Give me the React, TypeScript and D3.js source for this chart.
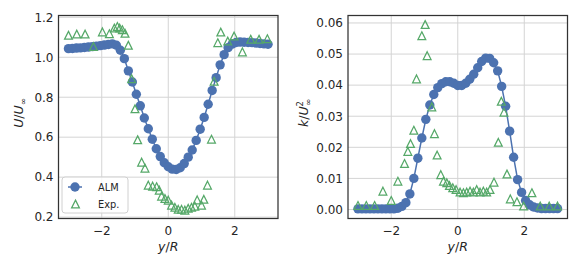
import * as d3 from 'd3'

const W = 581
const H = 271

// ALM simulation, 51 stations across the wake
const almX = [
  -3.0, -2.88, -2.76, -2.64, -2.52, -2.4, -2.28, -2.16, -2.04, -1.92, -1.8, -1.68, -1.56,
  -1.44, -1.32, -1.2, -1.08, -0.96, -0.84, -0.72, -0.6, -0.48, -0.36, -0.24, -0.12, 0.0,
  0.12, 0.24, 0.36, 0.48, 0.6, 0.72, 0.84, 0.96, 1.08, 1.2, 1.32, 1.44, 1.56, 1.68, 1.8,
  1.92, 2.04, 2.16, 2.28, 2.4, 2.52, 2.64, 2.76, 2.88, 3.0,
]
const almU = [
  1.043, 1.044, 1.046, 1.047, 1.049, 1.051, 1.053, 1.055, 1.058, 1.061, 1.064, 1.067, 1.06,
  1.035, 0.993, 0.932, 0.876, 0.815, 0.757, 0.696, 0.642, 0.59, 0.542, 0.503, 0.472, 0.452,
  0.44, 0.438, 0.447, 0.468, 0.5, 0.536, 0.584, 0.64, 0.699, 0.765, 0.834, 0.898, 0.962,
  1.013, 1.048, 1.066, 1.074, 1.076, 1.075, 1.074, 1.073, 1.071, 1.069, 1.067, 1.065,
]
const almK = [
  0.0002, 0.0002, 0.0002, 0.0002, 0.0002, 0.0002, 0.0002, 0.0002, 0.0002, 0.0002, 0.0004,
  0.001, 0.0022, 0.005, 0.01, 0.0165, 0.023, 0.029, 0.0336, 0.037, 0.0392, 0.0405, 0.0411,
  0.0411, 0.0406, 0.0399, 0.0399, 0.0406, 0.0419, 0.0435, 0.0456, 0.0476, 0.0487, 0.0486,
  0.0472, 0.0446, 0.0396, 0.0332, 0.0252, 0.0168, 0.0096, 0.0055, 0.0029, 0.0015, 0.0008,
  0.0005, 0.0003, 0.0003, 0.0003, 0.0003, 0.0003,
]

// experiment
const expUX = [
  -3.0, -2.75, -2.5, -2.25, -1.98, -1.77, -1.62, -1.53, -1.46, -1.38, -1.3, -1.2, -1.1, -1.0,
  -0.92, -0.8, -0.7, -0.6, -0.47, -0.35, -0.27, -0.2, -0.1, 0.0, 0.1, 0.2, 0.3, 0.4, 0.5,
  0.6, 0.7, 0.8, 0.87, 1.0, 1.07, 1.18, 1.3, 1.38, 1.49, 1.58, 1.79, 1.98, 2.23, 2.48,
  2.73, 2.98,
]
const expU = [
  1.11, 1.116, 1.116, 1.054, 1.127, 1.118, 1.146, 1.154, 1.146, 1.138, 1.12, 1.06, 0.893,
  0.742, 0.587, 0.475, 0.445, 0.36, 0.355, 0.352, 0.335, 0.305, 0.293, 0.285, 0.26, 0.249,
  0.239, 0.239, 0.235, 0.244, 0.249, 0.255, 0.286, 0.26, 0.289, 0.36, 0.59, 0.88, 1.073,
  1.126, 1.081, 1.106, 1.027, 1.09, 1.09, 1.093,
]
const expKX = [
  -3.0, -2.75, -2.5, -2.25, -2.0, -1.8, -1.6, -1.5, -1.42, -1.32, -1.24, -1.08, -0.98, -0.92,
  -0.78, -0.7, -0.62, -0.51, -0.43, -0.33, -0.25, -0.15, -0.05, 0.07, 0.17, 0.27, 0.37, 0.47,
  0.57, 0.67, 0.77, 0.87, 0.97, 1.09, 1.22, 1.31, 1.39, 1.48, 1.58, 1.78, 1.98, 2.23, 2.48,
  2.75, 3.0,
]
const expK = [
  0.0013, 0.0013, 0.0013, 0.0059, 0.0029, 0.0091, 0.0148, 0.0187, 0.0212, 0.0255, 0.042,
  0.0559, 0.0595, 0.0495, 0.033, 0.0244, 0.0175, 0.0112, 0.0091, 0.0086, 0.0077, 0.007,
  0.0064, 0.0056, 0.0054, 0.0056, 0.0059, 0.0056, 0.0064, 0.0056, 0.0059, 0.0056, 0.0064,
  0.0088, 0.0216, 0.0348, 0.0313, 0.0114, 0.0034, 0.0025, 0.0011, 0.0054, 0.0011, 0.0011,
  0.0011,
]

const xTicks = [-2, 0, 2]
const uTicks = [0.2, 0.4, 0.6, 0.8, 1.0, 1.2]
const kTicks = [0, 0.01, 0.02, 0.03, 0.04, 0.05, 0.06]
const legendLabels = ['ALM', 'Exp.']

const BLUE = '#4c72b0'
const GREEN = '#55a868'
const FONT = 'DejaVu Sans, sans-serif'
const TOP = 15.5
const BOTTOM = 218.5

const triangle = (s: number) => `M0,${-s}L${s},${s}L${-s},${s}Z`

interface PanelProps {
  left: number
  right: number
  yDomain: [number, number]
  yTicks: number[]
  yFmt: (v: number) => string
  almY: number[]
  expX: number[]
  expY: number[]
  ylabel: React.ReactNode
  legend?: boolean
}

function Panel({ left, right, yDomain, yTicks, yFmt, almY, expX, expY, ylabel, legend }: PanelProps) {
  const x = d3.scaleLinear().domain([-3.3, 3.3]).range([left, right])
  const y = d3.scaleLinear().domain(yDomain).range([BOTTOM, TOP])
  const line = d3
    .line<number>()
    .x((_, i) => x(almX[i]))
    .y((d) => y(d))
  const xFmt = d3.format('')
  const cx = (left + right) / 2

  return (
    <g>
      <rect x={left} y={TOP} width={right - left} height={BOTTOM - TOP} fill="#fff" />
      {xTicks.map((t) => (
        <line key={'gx' + t} x1={x(t)} x2={x(t)} y1={TOP} y2={BOTTOM} stroke="#d4d4d4" strokeWidth={1} />
      ))}
      {yTicks.map((t) => (
        <line key={'gy' + t} x1={left} x2={right} y1={y(t)} y2={y(t)} stroke="#d4d4d4" strokeWidth={1} />
      ))}
      <path d={line(almY) ?? ''} fill="none" stroke={BLUE} strokeWidth={1.5} />
      {almY.map((d, i) => (
        <circle key={'a' + i} cx={x(almX[i])} cy={y(d)} r={4.7} fill={BLUE} />
      ))}
      {expY.map((d, i) => (
        <path
          key={'e' + i}
          d={triangle(3.9)}
          transform={`translate(${x(expX[i])},${y(d)})`}
          fill="none"
          stroke={GREEN}
          strokeWidth={1.25}
        />
      ))}
      <rect
        x={left}
        y={TOP}
        width={right - left}
        height={BOTTOM - TOP}
        fill="none"
        stroke="#333"
        strokeWidth={1.25}
      />
      {xTicks.map((t) => (
        <text
          key={'tx' + t}
          x={x(t)}
          y={235}
          textAnchor="middle"
          fontSize={12}
          fontFamily={FONT}
          fill="#262626"
        >
          {xFmt(t)}
        </text>
      ))}
      {yTicks.map((t) => (
        <text
          key={'ty' + t}
          x={left - 5}
          y={y(t) + 4.3}
          textAnchor="end"
          fontSize={12}
          fontFamily={FONT}
          fill="#262626"
        >
          {yFmt(t)}
        </text>
      ))}
      <text x={cx} y={251} textAnchor="middle" fontSize={12.5} fontFamily={FONT} fill="#262626">
        <tspan fontStyle="italic">y</tspan>/<tspan fontStyle="italic">R</tspan>
      </text>
      {ylabel}
      {legend && (
        <g fontFamily={FONT} fontSize={9.8} fill="#262626">
          <rect x={62} y={177} width={66} height={36} rx={3} fill="#fff" fillOpacity={0.8} stroke="#d0d0d0" />
          <line x1={68} x2={82} y1={187} y2={187} stroke={BLUE} strokeWidth={1.5} />
          <circle cx={75} cy={187} r={4.7} fill={BLUE} />
          <text x={98} y={190.5}>{legendLabels[0]}</text>
          <path d={triangle(3.9)} transform="translate(75.5,204)" fill="none" stroke={GREEN} strokeWidth={1.25} />
          <text x={98} y={207.5}>{legendLabels[1]}</text>
        </g>
      )}
    </g>
  )
}

export default function App() {
  return (
    <div style={{ position: 'absolute', left: 0, top: 0 }}>
      <svg width={W} height={H} style={{ display: 'block', background: '#fff' }}>
        <Panel
          left={58.5}
          right={278}
          yDomain={[0.193, 1.209]}
          yTicks={uTicks}
          yFmt={d3.format('.1f')}
          almY={almU}
          expX={expUX}
          expY={expU}
          legend
          ylabel={
            <text
              transform="translate(23,113) rotate(-90)"
              textAnchor="middle"
              fontSize={12.5}
              fontFamily={FONT}
              fill="#262626"
            >
              <tspan fontStyle="italic">U</tspan>/<tspan fontStyle="italic">U</tspan>
              <tspan fontSize={8.5} dy={3}>∞</tspan>
            </text>
          }
        />
        <Panel
          left={348}
          right={567.5}
          yDomain={[-0.0029, 0.0624]}
          yTicks={kTicks}
          yFmt={d3.format('.2f')}
          almY={almK}
          expX={expKX}
          expY={expK}
          ylabel={
            <text
              transform="translate(308,113) rotate(-90)"
              textAnchor="middle"
              fontSize={12.5}
              fontFamily={FONT}
              fill="#262626"
            >
              <tspan fontStyle="italic">k</tspan>/<tspan fontStyle="italic">U</tspan>
              <tspan fontSize={8.5} dy={-5}>2</tspan>
              <tspan fontSize={8.5} dx={-5} dy={8}>∞</tspan>
            </text>
          }
        />
      </svg>
    </div>
  )
}
